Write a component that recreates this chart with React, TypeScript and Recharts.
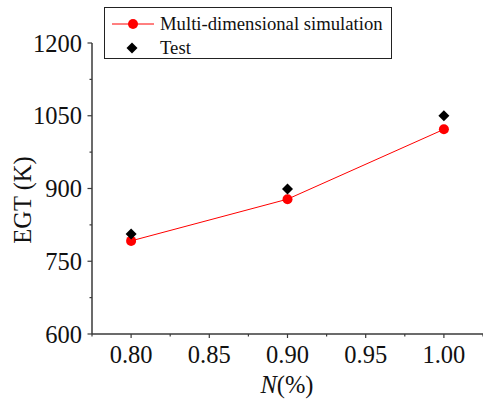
import { ComposedChart, Line, Scatter, XAxis, YAxis, Label } from "recharts";

const speeds = [0.8, 0.9, 1.0];
const simulationEgt = [792, 878, 1022];
const testEgt = [806, 899, 1050];
const xTicks = [0.775, 0.8, 0.825, 0.85, 0.875, 0.9, 0.925, 0.95, 0.975, 1.0, 1.025];
const xMajor = [0.8, 0.85, 0.9, 0.95, 1.0];
const yTicks = [600, 675, 750, 825, 900, 975, 1050, 1125, 1200];
const yMajor = [600, 750, 900, 1050, 1200];

const rows = speeds.map((n, i) => ({ n, sim: simulationEgt[i], test: testEgt[i] }));

const font = "'Liberation Serif', 'Times New Roman', serif";
const axisColor = "#3a3a3a";
const textStyle = { fontFamily: font, fontSize: 24.5, fill: "#111" };

const isMajor = (list: number[], v: number) => list.some((m) => Math.abs(m - v) < 1e-6);

const XTick = (props: any) => {
  const { x, y, payload } = props;
  const major = isMajor(xMajor, payload.value);
  return (
    <g>
      <line x1={x} x2={x} y1={y} y2={y + (major ? 4 : 2.5)} stroke={axisColor} strokeWidth={1.2} />
      {major && (
        <text x={x} y={y + 29} textAnchor="middle" style={textStyle}>
          {payload.value.toFixed(2)}
        </text>
      )}
    </g>
  );
};

const YTick = (props: any) => {
  const { x, y, payload } = props;
  const major = isMajor(yMajor, payload.value);
  return (
    <g>
      <line x1={x} x2={x - (major ? 4.5 : 2.5)} y1={y} y2={y} stroke={axisColor} strokeWidth={1.2} />
      {major && (
        <text x={x - 10} y={y + 8.5} textAnchor="end" style={textStyle}>
          {payload.value}
        </text>
      )}
    </g>
  );
};

const Diamond = (props: any) => {
  const { cx, cy } = props;
  if (cx == null || cy == null) return null;
  const r = 5.5;
  return <polygon points={`${cx},${cy - r} ${cx + r},${cy} ${cx},${cy + r} ${cx - r},${cy}`} fill="#000" />;
};

const LegendBox = () => (
  <svg width={289} height={53} style={{ display: "block" }}>
    <rect x={0.5} y={0.5} width={287} height={51} fill="#fff" stroke="#222" strokeWidth={1} />
    <line x1={8} x2={50} y1={17} y2={17} stroke="#ff0000" strokeWidth={1} />
    <circle cx={29} cy={17} r={5} fill="#ff0000" />
    <text x={56} y={23} style={{ ...textStyle, fontSize: 18.7 }}>
      Multi-dimensional simulation
    </text>
    <polygon points="28,35.5 33.5,41 28,46.5 22.5,41" fill="#000" />
    <text x={56} y={47} style={{ ...textStyle, fontSize: 18.7 }}>
      Test
    </text>
  </svg>
);

const App = () => {
  return (
    <div style={{ position: "absolute", left: 0, top: 0, width: 483, height: 402, background: "#fff" }}>
      <ComposedChart width={483} height={402} data={rows} margin={{ top: 43, right: 0, bottom: 0, left: 0 }}>
        <XAxis
          dataKey="n"
          type="number"
          domain={[0.775, 1.025]}
          ticks={xTicks}
          interval={0}
          height={68}
          tickSize={0}
          tickMargin={0}
          tickLine={false}
          tick={<XTick />}
          axisLine={{ stroke: axisColor, strokeWidth: 1.5 }}
          allowDataOverflow
        >
          <Label
            content={() => (
              <text x={287} y={393} textAnchor="middle" style={textStyle}>
                <tspan fontStyle="italic">N</tspan>(%)
              </text>
            )}
          />
        </XAxis>
        <YAxis
          type="number"
          domain={[600, 1200]}
          ticks={yTicks}
          interval={0}
          width={92}
          tickSize={0}
          tickMargin={0}
          tickLine={false}
          tick={<YTick />}
          axisLine={{ stroke: axisColor, strokeWidth: 1.5 }}
        >
          <Label
            content={() => (
              <text x={31} y={200} textAnchor="middle" style={textStyle} transform="rotate(-90 31 200)">
                EGT (K)
              </text>
            )}
          />
        </YAxis>
        <Line
          dataKey="sim"
          type="linear"
          stroke="#ff0000"
          strokeWidth={1}
          dot={{ r: 5, fill: "#ff0000", stroke: "#ff0000", strokeWidth: 0 }}
          isAnimationActive={false}
        />
        <Scatter dataKey="test" shape={<Diamond />} isAnimationActive={false} />
      </ComposedChart>
      <div style={{ position: "absolute", left: 104, top: 7 }}>
        <LegendBox />
      </div>
    </div>
  );
};

export default App;
